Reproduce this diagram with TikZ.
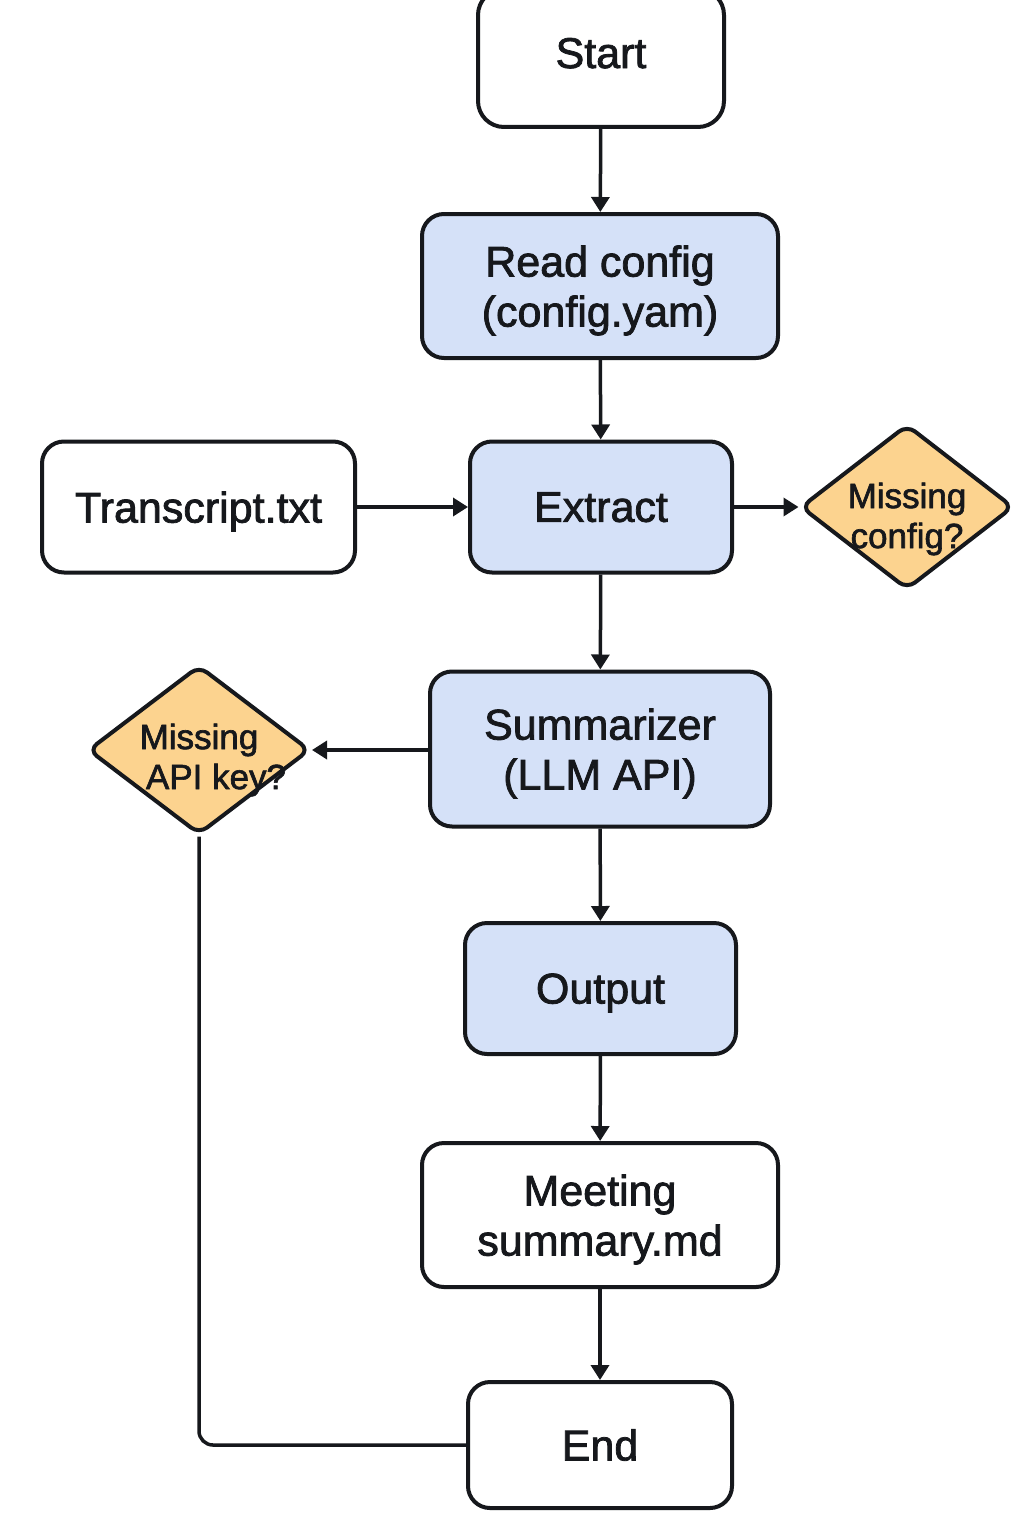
\documentclass[tikz,border=0pt]{standalone}
\usepackage{fontspec}
\setmainfont{Liberation Sans}[FakeBold=1.8]
\usetikzlibrary{shapes.geometric,arrows.meta}
\definecolor{boxblue}{HTML}{D5E1F8}
\definecolor{diaorange}{HTML}{FCD38F}
\definecolor{ink}{HTML}{16181C}
\newcommand\zerodp[1]{\raisebox{0pt}[\height][0pt]{#1}}
\tikzset{
  base/.style={draw=ink, line width=4pt, rounded corners=22pt, align=center,
     font=\fontsize{43}{50}\selectfont, text=ink, inner sep=0pt},
  plainbox/.style={base, fill=white},
  bluebox/.style={base, fill=boxblue},
  dia/.style={diamond, draw=ink, line width=4pt, fill=diaorange, rounded corners=10pt, inner sep=0pt},
  diatext/.style={align=center, font=\fontsize{35}{40}\selectfont, text=ink, inner sep=0pt},
  conn/.style={draw=ink, line width=3.5pt, -{Triangle[length=15pt,width=18pt]}},
  plainconn/.style={draw=ink, line width=3.5pt, rounded corners=14pt}
}
\begin{document}
\begin{tikzpicture}[x=1pt,y=-1pt]
\clip (0,0) rectangle (1024,1536);
\fill[white] (0,0) rectangle (1024,1536);

\node[plainbox, minimum width=246pt, minimum height=138pt, rounded corners=26pt, text depth=10pt] (start) at (601,58) {Start};
\node[bluebox, minimum width=356pt, minimum height=144pt] (read) at (600,286) {Read config\\\zerodp{(config.yam)}};
\node[bluebox, minimum width=262pt, minimum height=131pt] (extract) at (601,507) {\zerodp{Extract}};
\node[plainbox, minimum width=313pt, minimum height=131pt] (trans) at (198.5,507) {\zerodp{Transcript.txt}};
\node[dia, minimum width=213pt, minimum height=165pt] (mc) at (907,507) {};
\node[diatext] (mctext) at (907,519) {Missing\\config?};
\node[bluebox, minimum width=340pt, minimum height=155pt] (summ) at (600,749) {Summarizer\\\zerodp{(LLM API)}};
\node[dia, minimum width=222pt, minimum height=169pt] (api) at (199,750) {};
\node[diatext] (apitext) at (199,760) {Missing\\\hspace*{34pt}API key?};
\node[bluebox, minimum width=271pt, minimum height=131pt] (out) at (600.5,988.5) {\zerodp{Output}};
\node[plainbox, minimum width=356pt, minimum height=144pt] (meet) at (600,1215) {Meeting\\\zerodp{summary.md}};
\node[plainbox, minimum width=264pt, minimum height=126pt] (end) at (600,1445) {End};

\draw[conn] (start) -- (read);
\draw[conn] (read) -- (extract);
\draw[conn] (trans) -- (extract);
\draw[conn] (extract) -- (mc);
\draw[conn] (summ.west |- api.east) -- (api.east);
\draw[conn] (extract) -- (summ);
\draw[conn] (summ) -- (out);
\draw[conn] (out) -- (meet);
\draw[conn] (meet) -- (end);
\draw[plainconn] (api.south) |- (end.west);
\end{tikzpicture}
\end{document}
